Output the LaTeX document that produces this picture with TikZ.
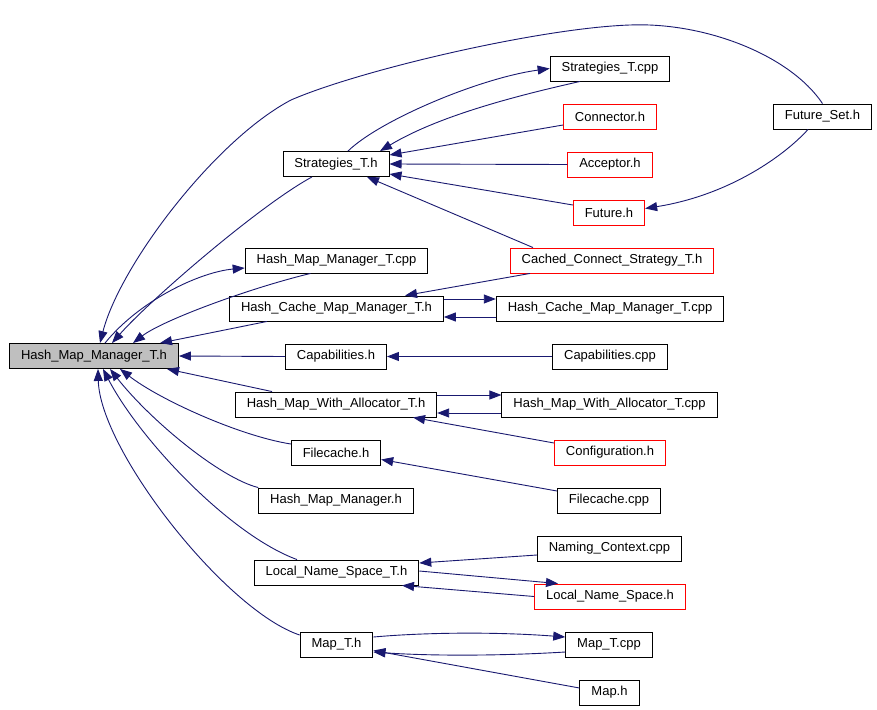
\documentclass[tikz,border=0pt]{standalone}
\usepackage{fontspec}
\setmainfont{Liberation Sans}
\usepackage{tikz}
\usetikzlibrary{arrows.meta}
\definecolor{edgeblue}{RGB}{25,25,112}
\definecolor{boxgray}{RGB}{191,191,191}
\definecolor{boxred}{RGB}{255,0,0}
\tikzset{
	filebox/.style={draw=black,line width=0.9pt,rectangle,inner xsep=11.5pt,inner ysep=0pt,minimum height=25pt,font=\fontsize{13}{15}\selectfont},
	redbox/.style={filebox,draw=boxred},
	curbox/.style={filebox,fill=boxgray},
	dep/.style={draw=edgeblue,line width=0.9pt,-{Triangle[length=12pt,width=9pt]}}
}

\begin{document}
\begin{tikzpicture}[x=1pt,y=-1pt]
			\useasboundingbox[fill=white] (0,0) rectangle (877,709);
			% files
			\node[curbox] (hmmth) at (94,356) {Hash\_Map\_Manager\_T.h};
			\node[filebox] (stth) at (336,164) {Strategies\_T.h};
			\node[filebox] (stcpp) at (610,68.5) {Strategies\_T.cpp};
			\node[redbox] (conn) at (610,116.5) {Connector.h};
			\node[redbox] (acc) at (610,164.5) {Acceptor.h};
			\node[redbox] (fut) at (609,212.5) {Future.h};
			\node[filebox] (fset) at (822.5,116.5) {Future\_Set.h};
			\node[redbox] (ccs) at (612,260.5) {Cached\_Connect\_Strategy\_T.h};
			\node[filebox] (hmmtcpp) at (336.5,260.5) {Hash\_Map\_Manager\_T.cpp};
			\node[filebox] (hcmmth) at (336.5,308.5) {Hash\_Cache\_Map\_Manager\_T.h};
			\node[filebox] (hcmmtcpp) at (610,308.5) {Hash\_Cache\_Map\_Manager\_T.cpp};
			\node[filebox] (caph) at (336,356.5) {Capabilities.h};
			\node[filebox] (capcpp) at (610,356.5) {Capabilities.cpp};
			\node[filebox] (hmwath) at (336,404.5) {Hash\_Map\_With\_Allocator\_T.h};
			\node[filebox] (hmwacpp) at (609.5,404.5) {Hash\_Map\_With\_Allocator\_T.cpp};
			\node[redbox] (conf) at (610,452.5) {Configuration.h};
			\node[filebox] (fch) at (336,452.5) {Filecache.h};
			\node[filebox] (fccpp) at (609,500.5) {Filecache.cpp};
			\node[filebox] (hmmh) at (336,500.5) {Hash\_Map\_Manager.h};
			\node[filebox] (nccpp) at (609.5,548.5) {Naming\_Context.cpp};
			\node[filebox] (lnsth) at (336.5,572.5) {Local\_Name\_Space\_T.h};
			\node[redbox] (lnsh) at (610,596.5) {Local\_Name\_Space.h};
			\node[filebox] (mapth) at (336.5,644.5) {Map\_T.h};
			\node[filebox] (maptcpp) at (609,644.5) {Map\_T.cpp};
			\node[filebox] (maph) at (609.5,692.5) {Map.h};

			% into Hash_Map_Manager_T.h
			\draw[dep] (fset.north) .. controls (790,55) and (705,22) .. (630,25)
				.. controls (540,28) and (360,70) .. (291,100)
				.. controls (215,140) and (120,265) .. ([xshift=6]hmmth.north);
			\draw[dep] ([xshift=-24]stth.south) .. controls (260,205) and (150,300) .. ([xshift=18]hmmth.north);
			\draw[dep] ([xshift=-26]hmmtcpp.south) .. controls (250,288) and (163,320) .. ([xshift=39]hmmth.north);
			\draw[dep] ([xshift=-69.5]hcmmth.south) -- ([xshift=66]hmmth.north);
			\draw[dep] ([xshift=11]hmmth.north) .. controls (140,300) and (200,272) .. ([yshift=-7.5]hmmtcpp.west);
			\draw[dep] (caph.west) -- (hmmth.east);
			\draw[dep] ([xshift=-64]hmwath.north) -- ([xshift=73]hmmth.south);
			\draw[dep] ([yshift=8.5]fch.west) .. controls (240,436) and (160,400) .. ([xshift=26]hmmth.south);
			\draw[dep] (hmmh.north west) .. controls (220,478) and (150,420) .. ([xshift=16]hmmth.south);
			\draw[dep] ([xshift=-39.5]lnsth.north) .. controls (230,535) and (140,440) .. ([xshift=9]hmmth.south);
			\draw[dep] ([yshift=9.5]mapth.west) .. controls (225,610) and (100,450) .. ([xshift=4]hmmth.south);

			% Strategies_T.h
			\draw[dep] ([xshift=12]stth.north) .. controls (380,120) and (480,78) .. (stcpp.west);
			\draw[dep] ([xshift=-30]stcpp.south) .. controls (520,95) and (440,115) .. ([xshift=44]stth.north);
			\draw[dep] ([yshift=-8.5]conn.west) -- ([yshift=9]stth.east);
			\draw[dep] (acc.west) -- (stth.east);
			\draw[dep] ([yshift=7.5]fut.west) -- ([yshift=-10]stth.east);
			\draw[dep] ([xshift=-14.5]fset.south) .. controls (785,155) and (730,195) .. ([yshift=4]fut.east);
			\draw[dep] ([xshift=-79]ccs.north) -- ([xshift=31]stth.south);
			\draw[dep] ([xshift=-82]ccs.south) -- ([xshift=68.5]hcmmth.north);

			% pairs on the right
			\draw[dep] ([yshift=9.5]hcmmth.east) -- ([yshift=9.5]hcmmtcpp.west);
			\draw[dep] ([yshift=-8.5]hcmmtcpp.west) -- ([yshift=-8.5]hcmmth.east);
			\draw[dep] (capcpp.west) -- (caph.east);
			\draw[dep] ([yshift=9.5]hmwath.east) -- ([yshift=9.5]hmwacpp.west);
			\draw[dep] ([yshift=-8.5]hmwacpp.west) -- ([yshift=-8.5]hmwath.east);
			\draw[dep] ([yshift=9.5]conf.west) -- ([xshift=77]hmwath.south);
			\draw[dep] ([yshift=9.5]fccpp.west) -- ([yshift=-7]fch.east);
			\draw[dep] ([yshift=-6.5]nccpp.west) -- ([yshift=9.5]lnsth.east);
			\draw[dep] ([yshift=1.5]lnsth.east) -- ([xshift=-52]lnsh.north);
			\draw[dep] (lnsh.west) -- ([xshift=65.5]lnsth.south);
			\draw[dep] ([yshift=7.5]mapth.east) .. controls (430,632) and (500,632) .. ([yshift=7.5]maptcpp.west);
			\draw[dep] ([yshift=-7.5]maptcpp.west) .. controls (500,656) and (430,656) .. ([yshift=-7.5]mapth.east);
			\draw[dep] ([yshift=4.5]maph.west) -- ([yshift=-6]mapth.east);
		\end{tikzpicture}
\end{document}
